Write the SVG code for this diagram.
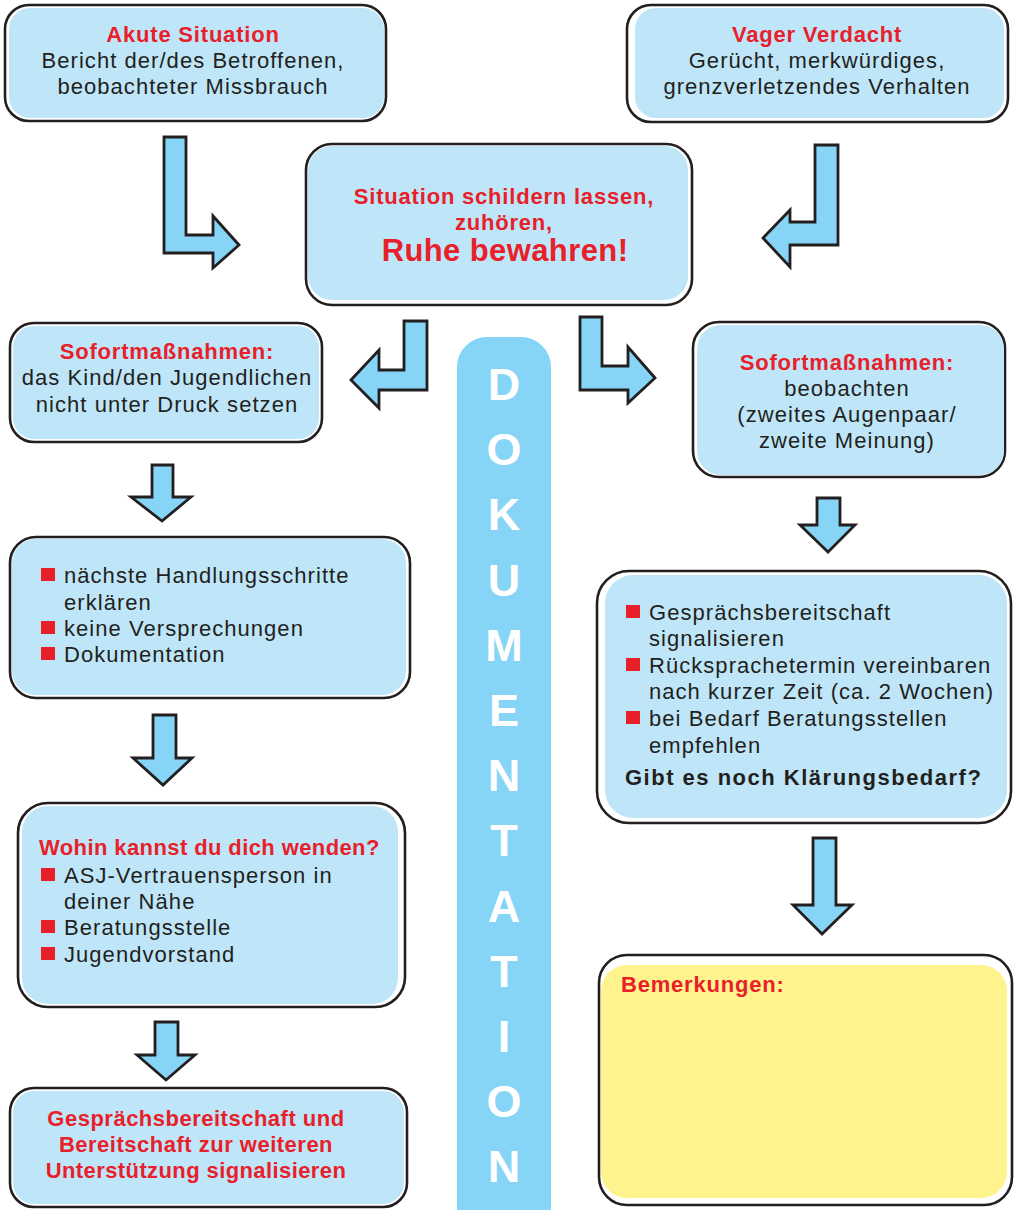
<svg xmlns="http://www.w3.org/2000/svg" width="1014" height="1210" viewBox="0 0 1014 1210">
<style>
.ol{fill:#fff;stroke:#231F20;stroke-width:2.6}
.bf{fill:#BEE6F8}
.yf{fill:#FFF38E}
.t{font-family:"Liberation Sans",Arial,sans-serif;font-size:22px;fill:#231F20;letter-spacing:1.05px}
.r{font-family:"Liberation Sans",Arial,sans-serif;font-size:22px;font-weight:bold;fill:#E8202A;letter-spacing:0.8px}
.b{font-family:"Liberation Sans",Arial,sans-serif;font-size:22px;font-weight:bold;fill:#231F20;letter-spacing:1.5px}
.c{text-anchor:middle}
.sq{fill:#E8202A}
.ar{fill:#86D4F6;stroke:#231F20;stroke-width:2.8;stroke-linejoin:miter}
.dk{font-family:"Liberation Sans",Arial,sans-serif;font-size:45px;font-weight:bold;fill:#fff;text-anchor:middle}
</style>
<rect width="1014" height="1210" fill="#fff"/>

<g id="dokumentation">
<rect x="457" y="337" width="94" height="900" rx="30" fill="#86D4F6"/>
<text class="dk" x="504" y="400">D</text>
<text class="dk" x="504" y="465">O</text>
<text class="dk" x="504" y="530">K</text>
<text class="dk" x="504" y="596">U</text>
<text class="dk" x="504" y="661">M</text>
<text class="dk" x="504" y="726">E</text>
<text class="dk" x="504" y="791">N</text>
<text class="dk" x="504" y="856">T</text>
<text class="dk" x="504" y="922">A</text>
<text class="dk" x="504" y="987">T</text>
<text class="dk" x="504" y="1052">I</text>
<text class="dk" x="504" y="1117">O</text>
<text class="dk" x="504" y="1182">N</text>
</g>

<g id="akute">
<rect class="ol" x="5" y="5" width="381" height="116" rx="24"/>
<rect class="bf" x="9" y="8" width="375" height="110" rx="21"/>
<text class="r c" x="193" y="42">Akute Situation</text>
<text class="t c" x="193" y="68">Bericht der/des Betroffenen,</text>
<text class="t c" x="193" y="94">beobachteter Missbrauch</text>
</g>

<g id="vager">
<rect class="ol" x="627" y="5" width="381" height="117" rx="24"/>
<rect class="bf" x="635" y="8" width="369" height="110" rx="21"/>
<text class="r c" x="817" y="42">Vager Verdacht</text>
<text class="t c" x="817" y="68">Gerücht, merkwürdiges,</text>
<text class="t c" x="817" y="94">grenzverletzendes Verhalten</text>
</g>

<g id="zentral">
<rect class="ol" x="306" y="144" width="386" height="161" rx="26"/>
<rect class="bf" x="308" y="146" width="380" height="154" rx="24"/>
<text class="r c" x="504" y="204">Situation schildern lassen,</text>
<text class="r c" x="504" y="230">zuhören,</text>
<text class="r c" x="505" y="261" style="font-size:31px;letter-spacing:0.4px">Ruhe bewahren!</text>
</g>

<g id="sofort-links">
<rect class="ol" x="10" y="323" width="312" height="119" rx="24"/>
<rect class="bf" x="13" y="326" width="306" height="113" rx="21"/>
<text class="r c" x="167" y="359">Sofortmaßnahmen:</text>
<text class="t c" x="167" y="385">das Kind/den Jugendlichen</text>
<text class="t c" x="167" y="412">nicht unter Druck setzen</text>
</g>

<g id="sofort-rechts">
<rect class="ol" x="693" y="322" width="312" height="155" rx="26"/>
<rect class="bf" x="697" y="325" width="307" height="150" rx="24"/>
<text class="r c" x="847" y="370">Sofortmaßnahmen:</text>
<text class="t c" x="847" y="396">beobachten</text>
<text class="t c" x="847" y="422">(zweites Augenpaar/</text>
<text class="t c" x="847" y="448">zweite Meinung)</text>
</g>

<g id="schritte">
<rect class="ol" x="10" y="537" width="400" height="161" rx="26"/>
<rect class="bf" x="12" y="539" width="394" height="156" rx="24"/>
<rect class="sq" x="41" y="568" width="14" height="13"/>
<text class="t" x="64" y="583">nächste Handlungsschritte</text>
<text class="t" x="64" y="610">erklären</text>
<rect class="sq" x="41" y="621" width="14" height="13"/>
<text class="t" x="64" y="636">keine Versprechungen</text>
<rect class="sq" x="41" y="647" width="14" height="13"/>
<text class="t" x="64" y="662">Dokumentation</text>
</g>

<g id="gespraech-rechts">
<rect class="ol" x="597" y="571" width="414" height="252" rx="32"/>
<rect class="bf" x="605" y="575" width="402" height="243" rx="28"/>
<rect class="sq" x="626" y="605" width="14" height="13"/>
<text class="t" x="649" y="620">Gesprächsbereitschaft</text>
<text class="t" x="649" y="646">signalisieren</text>
<rect class="sq" x="626" y="658" width="14" height="13"/>
<text class="t" x="649" y="673">Rücksprachetermin vereinbaren</text>
<text class="t" x="649" y="699">nach kurzer Zeit (ca. 2 Wochen)</text>
<rect class="sq" x="626" y="711" width="14" height="13"/>
<text class="t" x="649" y="726">bei Bedarf Beratungsstellen</text>
<text class="t" x="649" y="753">empfehlen</text>
<text class="b" x="625" y="785">Gibt es noch Klärungsbedarf?</text>
</g>

<g id="wohin">
<rect class="ol" x="18" y="803" width="387" height="204" rx="30"/>
<rect class="bf" x="22" y="806" width="376" height="198" rx="26"/>
<text class="r" x="39" y="855" style="letter-spacing:0.4px">Wohin kannst du dich wenden?</text>
<rect class="sq" x="41" y="868" width="14" height="13"/>
<text class="t" x="64" y="883">ASJ-Vertrauensperson in</text>
<text class="t" x="64" y="909">deiner Nähe</text>
<rect class="sq" x="41" y="920" width="14" height="13"/>
<text class="t" x="64" y="935">Beratungsstelle</text>
<rect class="sq" x="41" y="947" width="14" height="13"/>
<text class="t" x="64" y="962">Jugendvorstand</text>
</g>

<g id="unterstuetzung">
<rect class="ol" x="10" y="1088" width="397" height="119" rx="24"/>
<rect class="bf" x="13" y="1091" width="391" height="113" rx="21"/>
<text class="r c" x="196" y="1126" style="letter-spacing:0.5px">Gesprächsbereitschaft und</text>
<text class="r c" x="196" y="1152" style="letter-spacing:0.5px">Bereitschaft zur weiteren</text>
<text class="r c" x="196" y="1178" style="letter-spacing:0.4px">Unterstützung signalisieren</text>
</g>

<g id="bemerkungen">
<rect class="ol" x="599" y="955" width="413" height="250" rx="28"/>
<rect class="yf" x="601" y="965" width="406" height="233" rx="26"/>
<text class="r" x="621" y="992">Bemerkungen:</text>
</g>

<g id="connectors">
<polygon class="ar" points="164,137 186,137 186,235 213,235 213,216 239,245 213,268 213,253 164,253"/>
<polygon class="ar" points="815,145 838,145 838,245 790,245 790,267 763,238 790,210 790,222 815,222"/>
<polygon class="ar" points="404,321 427,321 427,390 379,390 379,408 351,380 379,350 379,370 404,370"/>
<polygon class="ar" points="580,317 602,317 602,366 628,366 628,347 655,378 628,403 628,390 580,390"/>
<polygon class="ar" points="152,465 173,465 173,497 191,497 162,521 131,497 152,497"/>
<polygon class="ar" points="153,715 176,715 176,758 192,758 163,785 133,758 153,758"/>
<polygon class="ar" points="155,1022 178,1022 178,1055 195,1055 166,1080 137,1055 155,1055"/>
<polygon class="ar" points="817,498 840,498 840,525 855,525 828,552 800,525 817,525"/>
<polygon class="ar" points="813,838 836,838 836,905 852,905 822,934 793,905 813,905"/>
</g>
</svg>
